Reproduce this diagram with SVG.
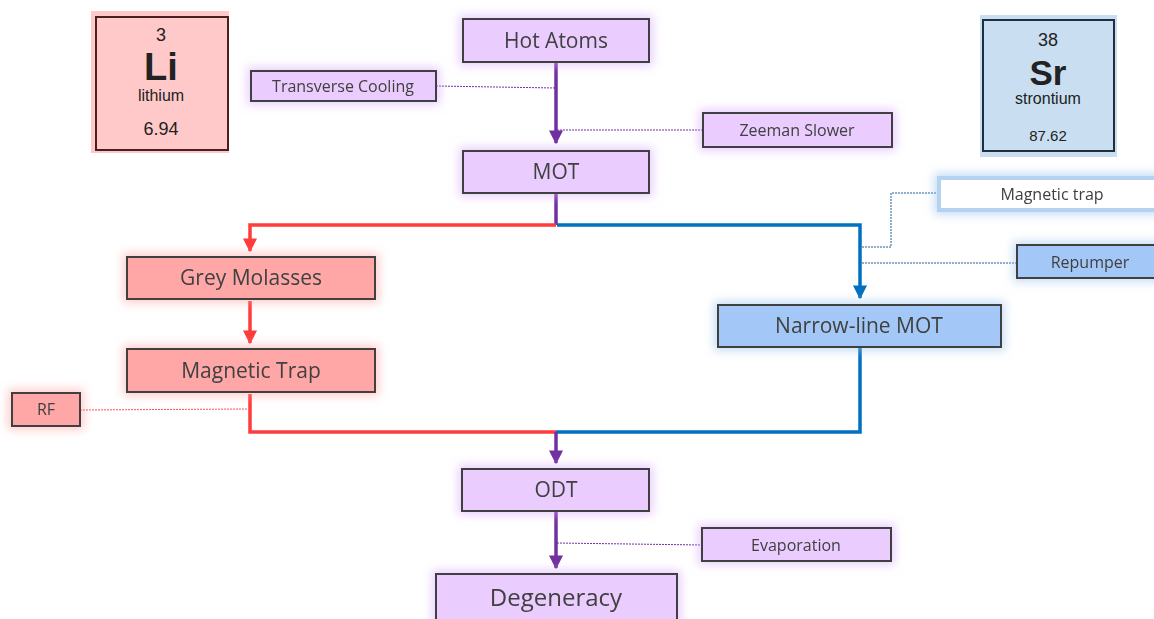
<svg xmlns="http://www.w3.org/2000/svg" width="1154" height="619" viewBox="0 0 1154 619">
<defs>
<filter id="gp" x="-30%" y="-60%" width="160%" height="220%"><feMorphology in="SourceAlpha" operator="dilate" radius="3" result="d"/><feGaussianBlur in="d" stdDeviation="5" result="b"/><feFlood flood-color="#d9a8ff" flood-opacity="0.55"/><feComposite in2="b" operator="in" result="g"/><feMerge><feMergeNode in="g"/><feMergeNode in="SourceGraphic"/></feMerge></filter>
<filter id="gr" x="-30%" y="-60%" width="160%" height="220%"><feMorphology in="SourceAlpha" operator="dilate" radius="3" result="d"/><feGaussianBlur in="d" stdDeviation="5" result="b"/><feFlood flood-color="#ff9a9a" flood-opacity="0.5"/><feComposite in2="b" operator="in" result="g"/><feMerge><feMergeNode in="g"/><feMergeNode in="SourceGraphic"/></feMerge></filter>
<filter id="gb" x="-30%" y="-60%" width="160%" height="220%"><feMorphology in="SourceAlpha" operator="dilate" radius="3" result="d"/><feGaussianBlur in="d" stdDeviation="5" result="b"/><feFlood flood-color="#9cc3ec" flood-opacity="0.55"/><feComposite in2="b" operator="in" result="g"/><feMerge><feMergeNode in="g"/><feMergeNode in="SourceGraphic"/></feMerge></filter>
<marker id="ap" viewBox="0 0 10 10" refX="9" refY="5" markerWidth="4" markerHeight="4" orient="auto" markerUnits="strokeWidth"><path d="M0,0L10,5L0,10z" fill="#7030a0"/></marker>
<marker id="ar" viewBox="0 0 10 10" refX="9" refY="5" markerWidth="4" markerHeight="4" orient="auto" markerUnits="strokeWidth"><path d="M0,0L10,5L0,10z" fill="#ff3b3b"/></marker>
<marker id="ab" viewBox="0 0 10 10" refX="9" refY="5" markerWidth="4" markerHeight="4" orient="auto" markerUnits="strokeWidth"><path d="M0,0L10,5L0,10z" fill="#0070c0"/></marker>
</defs>
<style>
text{font-family:"Open Sans","Noto Sans","Liberation Sans",sans-serif;fill:#404040;text-anchor:middle}
.el text{font-family:"Liberation Sans",Arial,sans-serif;fill:#222}
.pb{fill:#eaccff;stroke:#404040;stroke-width:2}
.rb{fill:#ffa6a6;stroke:#404040;stroke-width:2}
.bb{fill:#a3c8f7;stroke:#404040;stroke-width:2}
.lp{stroke:#7030a0;stroke-width:3.5;fill:none}
.lr{stroke:#ff3b3b;stroke-width:3.5;fill:none}
.lb{stroke:#0070c0;stroke-width:3.5;fill:none}
.dp{stroke:#7030a0;stroke-width:1;stroke-dasharray:2 1;fill:none}
.dr{stroke:#ff5050;stroke-width:1;stroke-dasharray:2 1;fill:none}
.db{stroke:#1f5f9f;stroke-width:1;stroke-dasharray:2 1;fill:none}
.n20{font-size:21px}
.n16{font-size:16px}
</style>
<rect width="1154" height="619" fill="#ffffff"/>

<g id="li" class="el">
<rect x="91" y="11" width="138" height="142" fill="#ffc9c9"/>
<rect x="96" y="17" width="132" height="133" fill="none" stroke="#4a1f1f" stroke-width="2"/>
<text x="161" y="41" font-size="18">3</text>
<text x="161" y="80" font-size="38" font-weight="bold">Li</text>
<text x="161" y="101" font-size="16">lithium</text>
<text x="161" y="135" font-size="18">6.94</text>
</g>

<g id="sr" class="el">
<rect x="980" y="15" width="137" height="142" fill="#c9dff1"/>
<rect x="983" y="20" width="131" height="131" fill="none" stroke="#1f2f3f" stroke-width="2"/>
<text x="1048" y="46" font-size="18">38</text>
<text x="1048" y="85" font-size="35" font-weight="bold">Sr</text>
<text x="1048" y="104" font-size="16">strontium</text>
<text x="1048" y="141" font-size="15">87.62</text>
</g>

<g id="connectors">
<path class="lp" d="M556,62V143" marker-end="url(#ap)"/>
<path class="dp" d="M436,86L555,88"/>
<path class="dp" d="M557,130H703"/>
<path class="lp" d="M556,193V225"/>
<path class="lr" d="M556,225H250V251" marker-end="url(#ar)"/>
<path class="lb" d="M557,225H860V298" marker-end="url(#ab)"/>
<path class="lr" d="M250,301V343" marker-end="url(#ar)"/>
<path class="lr" d="M250,394V432H556"/>
<path class="dr" d="M80,410L250,409"/>
<path class="lb" d="M860,347V432H556"/>
<path class="db" d="M862,247H891V193H937"/>
<path class="db" d="M862,263H1017"/>
<path class="lp" d="M556,432V463" marker-end="url(#ap)"/>
<path class="lp" d="M556,511V568" marker-end="url(#ap)"/>
<path class="dp" d="M557,543L702,545"/>
</g>

<g id="hot-atoms" filter="url(#gp)"><rect class="pb" x="463" y="19" width="186" height="43"/><text class="n20" x="556" y="48">Hot Atoms</text></g>
<g id="transverse-cooling" filter="url(#gp)"><rect class="pb" x="251" y="71" width="185" height="30"/><text class="n16" x="343" y="92">Transverse Cooling</text></g>
<g id="zeeman-slower" filter="url(#gp)"><rect class="pb" x="703" y="113" width="189" height="34"/><text class="n16" x="797" y="136">Zeeman Slower</text></g>
<g id="mot" filter="url(#gp)"><rect class="pb" x="463" y="151" width="186" height="42"/><text class="n20" x="556" y="179">MOT</text></g>

<g id="grey-molasses" filter="url(#gr)"><rect class="rb" x="127" y="257" width="248" height="42"/><text class="n20" x="251" y="285">Grey Molasses</text></g>
<g id="magnetic-trap-li" filter="url(#gr)"><rect class="rb" x="127" y="349" width="248" height="43"/><text class="n20" x="251" y="378">Magnetic Trap</text></g>
<g id="rf" filter="url(#gr)"><rect class="rb" x="12" y="393" width="68" height="33"/><text class="n16" x="46" y="415">RF</text></g>

<g id="magnetic-trap-sr" filter="url(#gb)"><rect x="939" y="178" width="220" height="32" fill="#ffffff" stroke="#b5d3f0" stroke-width="4"/><text class="n16" x="1052" y="200">Magnetic trap</text></g>
<g id="repumper" filter="url(#gb)"><rect class="bb" x="1017" y="245" width="150" height="33"/><text class="n16" x="1090" y="268">Repumper</text></g>
<g id="narrow-line-mot" filter="url(#gb)"><rect class="bb" x="718" y="305" width="283" height="42"/><text class="n20" x="859" y="333">Narrow-line MOT</text></g>

<g id="odt" filter="url(#gp)"><rect class="pb" x="462" y="469" width="187" height="42"/><text class="n20" x="556" y="497">ODT</text></g>
<g id="evaporation" filter="url(#gp)"><rect class="pb" x="702" y="528" width="189" height="33"/><text class="n16" x="796" y="551">Evaporation</text></g>
<g id="degeneracy" filter="url(#gp)"><rect class="pb" x="436" y="574" width="241" height="55"/><text x="556" y="606" font-size="24">Degeneracy</text></g>
</svg>
